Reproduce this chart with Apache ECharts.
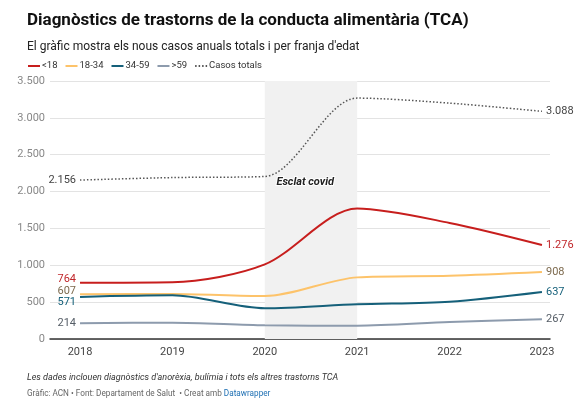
<!DOCTYPE html>
<html>
<head>
<meta charset="utf-8">
<script src="https://cdn.jsdelivr.net/npm/echarts@6/dist/echarts.min.js"></script>
<style>
  html, body { margin: 0; padding: 0; background: #fff; }
  #chart { width: 586px; height: 398px; }
</style>
</head>
<body>
<div id="chart"></div>
<script>
  // dades (casos nous anuals)
  const years = [2018, 2019, 2020, 2021, 2022, 2023]
  const under18 = [764, 770, 1012, 1770, 1575, 1276]
  const age18to34 = [607, 610, 582, 836, 857, 908]
  const age34to59 = [571, 592, 416, 470, 505, 637]
  const over59 = [214, 221, 185, 180, 230, 267]
  const totalCases = [2156, 2190, 2205, 3268, 3200, 3088]
  const yTicks = [0, 500, 1000, 1500, 2000, 2500, 3000, 3500]
  const covidRange = [2020, 2021]

  const FONT = 'Roboto, "Noto Sans", sans-serif'

  function fmt(v) {
    return String(v).replace(/\B(?=(\d{3})+(?!\d))/g, '.')
  }

  function makeSeries(name, values, color, labelColor, extra) {
    return Object.assign({
      name: name,
      type: 'line',
      smooth: 0.3,
      symbol: 'none',
      data: values.map((v, i) => [years[i], v]),
      lineStyle: {color: color, width: 2},
      itemStyle: {color: color},
      endLabel: {
        show: true,
        formatter: p => fmt(p.value[1]),
        color: labelColor,
        fontSize: 11,
        fontFamily: FONT,
        distance: 4
      },
      emphasis: {disabled: true},
      z: 3
    }, extra || {})
  }

  const chart = echarts.init(document.getElementById('chart'))

  const covidSeries = {
    name: 'covid',
    type: 'line',
    data: [],
    markArea: {
      silent: true,
      itemStyle: {color: '#f1f1f1'},
      data: [[{xAxis: covidRange[0]}, {xAxis: covidRange[1]}]]
    },
    markPoint: {
      silent: true,
      symbol: 'circle',
      symbolSize: 1,
      itemStyle: {color: 'rgba(0,0,0,0)'},
      data: [{coord: [2020.12, 2127]}],
      label: {
        show: true,
        position: 'right',
        distance: 0,
        formatter: 'Esclat covid',
        fontSize: 11,
        fontWeight: 'bold',
        fontStyle: 'italic',
        color: '#222',
        fontFamily: FONT,
        textBorderColor: '#fff',
        textBorderWidth: 2
      }
    },
    z: 1
  }

  chart.setOption({
    animation: false,
    backgroundColor: '#fff',
    textStyle: {fontFamily: FONT},
    title: [
      {
        text: 'Diagnòstics de trastorns de la conducta alimentària (TCA)',
        left: 22, top: 7,
        textStyle: {fontSize: 17, fontWeight: 'bold', color: '#111', fontFamily: FONT}
      },
      {
        text: "El gràfic mostra els nous casos anuals totals i per franja d'edat",
        left: 22, top: 36,
        textStyle: {fontSize: 12, fontWeight: 'normal', color: '#222', fontFamily: FONT}
      },
      {
        text: "Les dades inclouen diagnòstics d'anorèxia, bulímia i tots els altres trastorns TCA",
        left: 22, top: 368,
        textStyle: {fontSize: 9, fontStyle: 'italic', fontWeight: 'normal', color: '#333', fontFamily: FONT}
      },
      {
        text: '{g|Gràfic: ACN • Font: Departament de Salut  • Creat amb }{b|Datawrapper}',
        left: 22, top: 385,
        textStyle: {
          fontSize: 8.2, fontWeight: 'normal', fontFamily: FONT,
          rich: {
            g: {fontSize: 8.2, color: '#666', fontFamily: FONT},
            b: {fontSize: 8.2, color: '#1d6fb3', fontFamily: FONT}
          }
        }
      }
    ],
    legend: {
      left: 22, top: 56,
      itemWidth: 12, itemHeight: 8, itemGap: 7,
      itemStyle: {opacity: 0},
      textStyle: {fontSize: 9.5, color: '#333', fontFamily: FONT, padding: [0, 0, 0, -3]},
      data: ['<18', '18-34', '34-59', '>59', 'Casos totals']
    },
    grid: {left: 50, right: 36, top: 81, bottom: 59},
    xAxis: {
      type: 'value',
      min: 2017.675,
      max: 2023.087,
      splitLine: {show: false},
      axisLine: {show: true, lineStyle: {color: '#333', width: 1.5}},
      axisTick: {show: false},
      axisLabel: {
        customValues: years,
        color: '#444',
        fontSize: 11,
        margin: 8,
        formatter: v => String(v)
      }
    },
    yAxis: {
      type: 'value',
      min: 0,
      max: 3500,
      interval: 500,
      axisLine: {show: false},
      axisTick: {show: false},
      splitLine: {lineStyle: {color: '#e3e3e3', width: 1}},
      axisLabel: {
        customValues: yTicks,
        color: '#888',
        fontSize: 11,
        margin: 5,
        formatter: v => fmt(v)
      }
    },
    series: [
      covidSeries,
      makeSeries('<18', under18, '#c71e1d', '#c0262a'),
      makeSeries('18-34', age18to34, '#fdc36a', '#7d6a4e'),
      makeSeries('34-59', age34to59, '#15607a', '#15607a'),
      makeSeries('>59', over59, '#8d9bad', '#555d66'),
      makeSeries('Casos totals', totalCases, '#555', '#444', {
        lineStyle: {color: '#555', width: 1.5, type: [1.5, 2]},
        itemStyle: {color: '#555'}
      })
    ]
  })

  // labels del primer any (2018), posats amb l'escala del gràfic
  const starts = [
    [under18, '#c0262a', -3],
    [age18to34, '#7d6a4e', -3],
    [age34to59, '#15607a', 5],
    [over59, '#555d66', 0],
    [totalCases, '#444', 0]
  ]
  chart.setOption({
    graphic: starts.map(([values, color, dy]) => {
      const pt = chart.convertToPixel({gridIndex: 0}, [years[0], values[0]])
      return {
        type: 'text',
        x: pt[0] - 4,
        y: pt[1] + dy,
        z: 10,
        silent: true,
        style: {
          text: fmt(values[0]),
          fill: color,
          fontSize: 11,
          fontFamily: FONT,
          align: 'right',
          verticalAlign: 'middle'
        }
      }
    })
  })
</script>
</body>
</html>
